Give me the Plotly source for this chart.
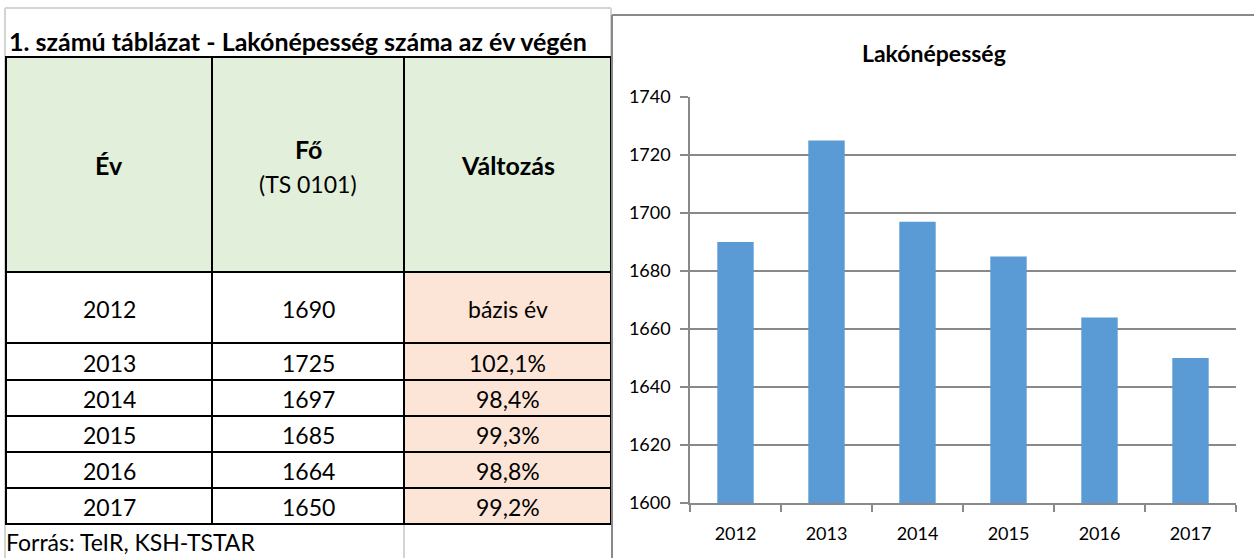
import plotly.graph_objects as go

# ---- data ----
years = ["2012", "2013", "2014", "2015", "2016", "2017"]
population = [1690, 1725, 1697, 1685, 1664, 1650]
change = ["bázis év", "102,1%", "98,4%", "99,3%", "98,8%", "99,2%"]
table_title = "1. számú táblázat - Lakónépesség száma az év végén"
col_headers = ["<b>Év</b>", "<b>Fő</b>", "<b>Változás</b>"]
col_subheaders = ["", "(TS 0101)", ""]
source = "Forrás: TeIR, KSH-TSTAR"
chart_title = "Lakónépesség"
y_ticks = [1600, 1620, 1640, 1660, 1680, 1700, 1720, 1740]

W, H = 1254, 558
FONT = "Lato, 'Open Sans', sans-serif"


def px(x):
    return x / W


def py(y):
    return 1 - y / H


shapes = []
annotations = []


def rect(x0, y0, x1, y1, fill):
    shapes.append(dict(type="rect", xref="paper", yref="paper",
                       x0=px(x0), x1=px(x1), y0=py(y1), y1=py(y0),
                       fillcolor=fill, line=dict(width=0), layer="below"))


def hline(x0, x1, y, color, lw):
    shapes.append(dict(type="line", xref="paper", yref="paper",
                       x0=px(x0), x1=px(x1), y0=py(y), y1=py(y),
                       line=dict(color=color, width=lw)))


def vline(x, y0, y1, color, lw):
    shapes.append(dict(type="line", xref="paper", yref="paper",
                       x0=px(x), x1=px(x), y0=py(y0), y1=py(y1),
                       line=dict(color=color, width=lw)))


def text(x, y, s, size, anchor="center", color="#000000"):
    annotations.append(dict(xref="paper", yref="paper", x=px(x), y=py(y), text=s,
                            showarrow=False, xanchor=anchor, yanchor="middle",
                            font=dict(family=FONT, size=size, color=color)))


# ---- table layout ----
col_x = [6, 212, 404, 611]
row_y = [57, 272, 343, 380, 416, 452, 488, 524]
GREEN = "#E2EFDA"
PEACH = "#FCE4D6"
LIGHTGREY = "#D4D4D4"

# outer light grey frame of the sheet
hline(5, 611, 8, LIGHTGREY, 2)
vline(5, 8, 558, LIGHTGREY, 2)
vline(611, 8, 57, LIGHTGREY, 2)
vline(404, 524, 558, LIGHTGREY, 2)

# fills
rect(col_x[0], row_y[0], col_x[3], row_y[1], GREEN)
rect(col_x[2], row_y[1], col_x[3], row_y[-1], PEACH)

# grid lines
for yy in row_y:
    hline(col_x[0] - 1, col_x[3] + 1, yy, "#000000", 2)
for xx in col_x:
    vline(xx, row_y[0], row_y[-1], "#000000", 2)

# table title
text(7, 41, "<b>" + table_title + "</b>", 25, anchor="left")

# headers
cx = [(col_x[i] + col_x[i + 1]) / 2 for i in range(3)]
hy = (row_y[0] + row_y[1]) / 2
for i in range(3):
    if col_subheaders[i]:
        text(cx[i], 149, col_headers[i], 25)
        text(cx[i], 184, col_subheaders[i], 23)
    else:
        text(cx[i], hy, col_headers[i], 25)

# body
for r in range(len(years)):
    yc = (row_y[r + 1] + row_y[r + 2]) / 2 + 1
    text(cx[0], yc, years[r], 23)
    text(cx[1], yc, str(population[r]), 23)
    text(cx[2], yc, change[r], 23)

text(4, 542, source, 23, anchor="left")

# ---- chart frame ----
CHARTGREY = "#898989"
hline(612, 1260, 15, CHARTGREY, 2)
vline(612, 15, 560, CHARTGREY, 2)

text(934, 53, "<b>" + chart_title + "</b>", 23)

fig = go.Figure()
fig.add_trace(go.Bar(x=years, y=population,
                     marker=dict(color="#5B9BD5", line=dict(width=0)),
                     hoverinfo="x+y"))

fig.update_layout(
    width=W, height=H,
    margin=dict(l=0, r=0, t=0, b=0, autoexpand=False),
    paper_bgcolor="#FFFFFF", plot_bgcolor="#FFFFFF",
    showlegend=False,
    bargap=0.6,
    shapes=shapes,
    annotations=annotations,
    font=dict(family=FONT, color="#000000"),
    xaxis=dict(domain=[px(690), px(1236)], type="category", automargin=False,
               showgrid=False, showline=True, linecolor=CHARTGREY, linewidth=1.5,
               ticks="outside", tickson="boundaries", ticklen=7, tickcolor=CHARTGREY,
               tickwidth=1.5, tickfont=dict(size=18, family=FONT), ticklabelstandoff=14),
    yaxis=dict(domain=[py(503), py(97)], range=[1600, 1740], automargin=False,
               tickvals=y_ticks, showgrid=True, gridcolor=CHARTGREY, gridwidth=1.5,
               showline=True, linecolor=CHARTGREY, linewidth=1.5,
               ticks="outside", ticklen=8, tickcolor=CHARTGREY, tickwidth=1.5,
               tickfont=dict(size=18, family=FONT), zeroline=False,
               ticklabelstandoff=6),
)

fig.write_html("out.html", config={"displayModeBar": False},
               post_script="document.body.style.margin='0';document.body.style.overflow='hidden';")
